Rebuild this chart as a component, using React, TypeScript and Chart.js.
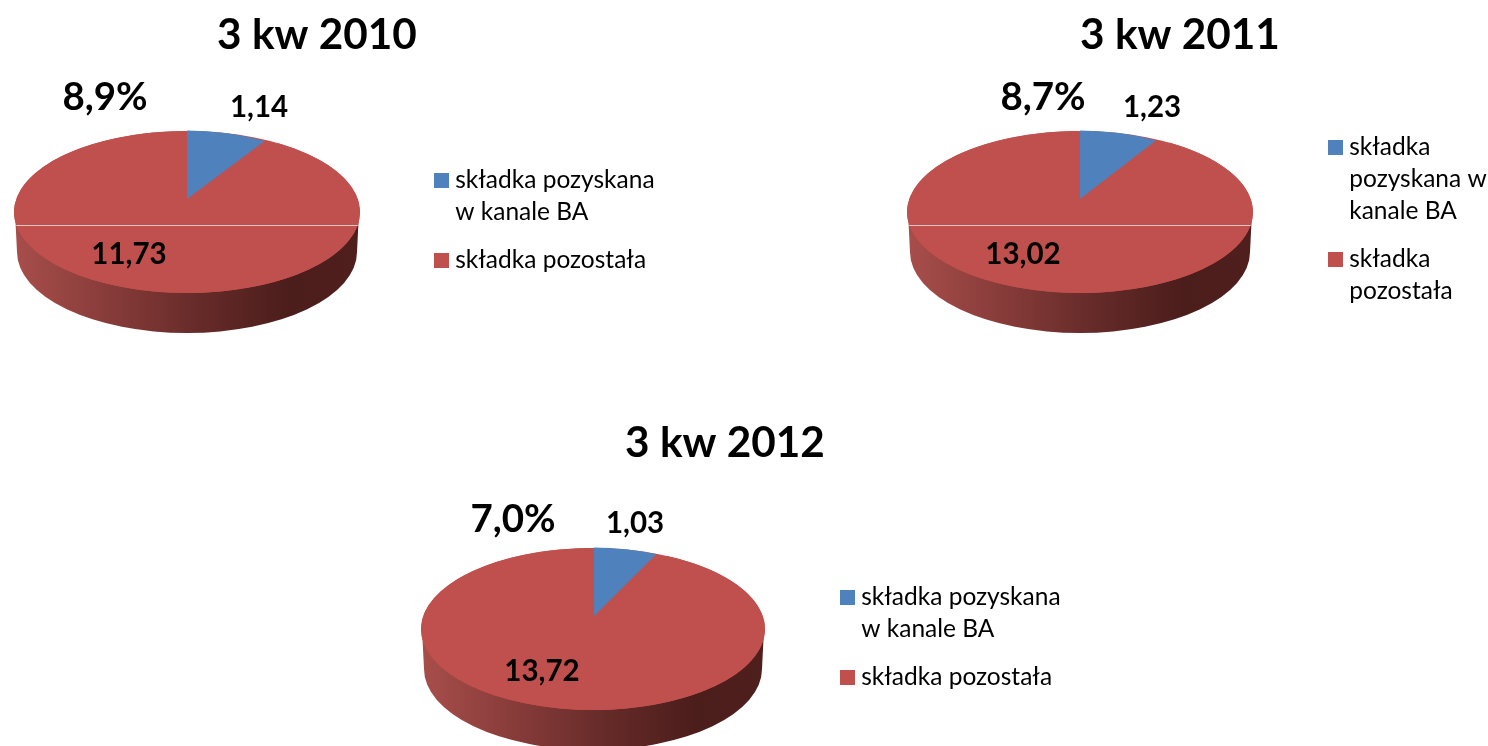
import React, { useEffect, useRef } from "react";
import { Chart, registerables } from "chart.js";

Chart.register(...registerables);

const FONT = "Lato";
const categories = [["składka pozyskana", "w kanale BA"], ["składka pozostała"]];
const categoriesNarrow = [["składka", "pozyskana w", "kanale BA"], ["składka", "pozostała"]];
const titles = ["3 kw 2010", "3 kw 2011", "3 kw 2012"];
const channelValues = [1.14, 1.23, 1.03];
const otherValues = [11.73, 13.02, 13.72];
const shares = [8.9, 8.7, 7.0];
const BLUE = "#4f81bd";
const RED = "#c0504d";

const layouts = [
  { box: [0, 0, 690, 345], titleX: 317, titleY: 35, cx: 187, cy: 212, rx: 173, ry: 81, tip: [187, 199], depth: 40, seamY: 225, legend: [424, 152], legendLabels: categories, shareAt: [105, 98], channelAt: [259, 107], otherAt: [129, 254] },
  { box: [890, 0, 598, 345], titleX: 1180, titleY: 35, cx: 1080, cy: 212, rx: 173, ry: 81, tip: [1080, 199], depth: 40, seamY: 225, legend: [1318, 119], legendLabels: categoriesNarrow, shareAt: [1043, 98], channelAt: [1152, 107], otherAt: [1023, 254] },
  { box: [400, 410, 680, 336], titleX: 725, titleY: 443, cx: 593, cy: 629, rx: 172, ry: 81, tip: [594, 616], depth: 40, seamY: null, legend: [830, 569], legendLabels: categories, shareAt: [513, 520], channelAt: [635, 523], otherAt: [542, 671] },
];

const fmt = (v: number, d: number) => v.toFixed(d).replace(".", ",");

function swatch(color: string) {
  const c = document.createElement("canvas");
  c.width = 15;
  c.height = 15;
  const g = c.getContext("2d")!;
  g.fillStyle = color;
  g.fillRect(0, 0, 15, 15);
  return c;
}

function makeChart(canvas: HTMLCanvasElement, i: number) {
  const L = layouts[i];
  const [bx, by] = L.box;
  const pie3d = {
    id: "pie3d",
    afterLayout(chart: any) {
      const t = chart.titleBlock;
      t.left = L.titleX - bx - 200;
      t.right = L.titleX - bx + 200;
      t.top = L.titleY - by - t.height / 2;
      t.bottom = t.top + t.height;
      const lg = chart.legend;
      lg.left = L.legend[0] - bx;
      lg.right = lg.left + 300;
      lg.top = L.legend[1] - by;
      lg.bottom = lg.top + 320;
    },
    beforeDatasetDraw(chart: any) {
      const ctx = chart.ctx;
      const [red0, blue0] = [chart.getDatasetMeta(0).data[1], chart.getDatasetMeta(0).data[0]];
      const cx = L.cx - bx;
      const cy = L.cy - by;
      const grad = ctx.createLinearGradient(cx - L.rx, 0, cx + L.rx, 0);
      grad.addColorStop(0, "#a84e4b");
      grad.addColorStop(0.3, "#843a38");
      grad.addColorStop(0.55, "#642a28");
      grad.addColorStop(0.8, "#4b1d1b");
      grad.addColorStop(1, "#4f1f1d");
      ctx.save();
      ctx.fillStyle = grad;
      ctx.beginPath();
      ctx.moveTo(cx - L.rx + 1, cy);
      ctx.ellipse(cx, cy + L.depth, L.rx - 3, L.ry, 0, Math.PI, 0, true);
      ctx.lineTo(cx + L.rx - 1, cy);
      ctx.closePath();
      ctx.fill();
      ctx.fillStyle = RED;
      ctx.beginPath();
      ctx.ellipse(cx, cy, L.rx, L.ry, 0, 0, Math.PI * 2);
      ctx.fill();
      ctx.restore();
      const place = (el: any, tx: number, ty: number, rx: number, ry: number) => {
        ctx.save();
        ctx.translate(tx, ty);
        ctx.scale(rx / el.outerRadius, ry / el.outerRadius);
        ctx.translate(-el.x, -el.y);
        el.draw(ctx);
        ctx.restore();
      };
      place(red0, cx, cy, L.rx, L.ry);
      place(blue0, L.tip[0] - bx, L.tip[1] - by, 147, 68.4);
      return false;
    },
    afterDatasetsDraw(chart: any) {
      const ctx = chart.ctx;
      ctx.save();
      if (L.seamY !== null) {
        const dy = (L.seamY - L.cy) / L.ry;
        const half = L.rx * Math.sqrt(1 - dy * dy);
        ctx.fillStyle = "#e8c6c4";
        ctx.fillRect(L.cx - bx - half, L.seamY - by, half * 2, 1);
      }
      ctx.textAlign = "center";
      ctx.textBaseline = "middle";
      ctx.fillStyle = "#000000";
      ctx.font = `bold 29.5px ${FONT}`;
      ctx.fillText(fmt(channelValues[i], 2), L.channelAt[0] - bx, L.channelAt[1] - by);
      ctx.fillText(fmt(otherValues[i], 2), L.otherAt[0] - bx, L.otherAt[1] - by);
      ctx.font = `bold 38.5px ${FONT}`;
      ctx.fillText(`${fmt(shares[i], 1)}%`, L.shareAt[0] - bx, L.shareAt[1] - by);
      ctx.restore();
    },
  };
  return new Chart(canvas, {
    type: "pie",
    data: {
      labels: L.legendLabels as any,
      datasets: [
        {
          data: [channelValues[i], otherValues[i]],
          backgroundColor: [BLUE, RED],
          borderWidth: 0,
        },
      ],
    },
    options: {
      responsive: false,
      animation: false,
      plugins: {
        tooltip: { enabled: false },
        title: {
          display: true,
          text: titles[i],
          color: "#000000",
          font: { family: FONT, size: 42.3, weight: "bold" },
          padding: 0,
        },
        legend: {
          position: "right",
          align: "start",
          onClick: () => {},
          labels: {
            color: "#000000",
            font: { family: FONT, size: 24.5, lineHeight: 32 / 24.5 },
            usePointStyle: true,
            pointStyleWidth: 3,
            boxHeight: 15,
            padding: 16,
            generateLabels: () =>
              (L.legendLabels as any[]).map((text, k) => ({
                text,
                fontColor: "#000000",
                pointStyle: swatch(k === 0 ? BLUE : RED),
                fillStyle: k === 0 ? BLUE : RED,
                lineWidth: 0,
                hidden: false,
                index: k,
              })),
          },
        },
      },
    },
    plugins: [pie3d],
  } as any);
}

function Panel({ index }: { index: number }) {
  const ref = useRef<HTMLCanvasElement>(null);
  useEffect(() => {
    const chart = makeChart(ref.current!, index);
    return () => chart.destroy();
  }, [index]);
  const [x, y, w, h] = layouts[index].box;
  return (
    <canvas
      ref={ref}
      width={w}
      height={h}
      style={{ position: "absolute", left: x, top: y, width: w, height: h }}
    />
  );
}

export default function App() {
  return (
    <div style={{ position: "fixed", left: 0, top: 0, width: 1488, height: 746, overflow: "hidden", background: "#ffffff" }}>
      {layouts.map((_, i) => (
        <Panel key={i} index={i} />
      ))}
    </div>
  );
}
